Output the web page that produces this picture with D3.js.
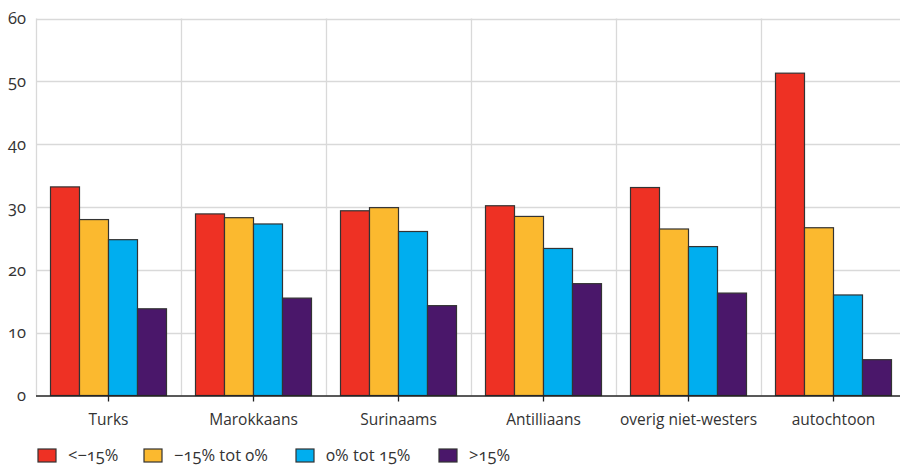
<!DOCTYPE html>
<html><head><meta charset="utf-8">
<script src="https://cdn.jsdelivr.net/npm/d3@7"></script>
<style>
html,body{margin:0;padding:0;background:#fff;}
svg{display:block;font-family:"Open Sans",sans-serif;font-feature-settings:"onum";font-variant-numeric:oldstyle-nums;}
</style></head>
<body>
<svg id="chart" width="900" height="465"></svg>
<script>
const categories = ["Turks","Marokkaans","Surinaams","Antilliaans","overig niet-westers","autochtoon"];
const seriesNames = ["<\u221215%","\u221215% tot 0%","0% tot 15%",">15%"];
const seriesColors = ["#ee3124","#fbb92f","#00aeef","#4a176a"];
const valsLow = [33.2,28.9,29.4,30.2,33.1,51.3];
const valsMidLow = [28.0,28.3,29.9,28.5,26.5,26.7];
const valsMidHigh = [24.8,27.3,26.1,23.4,23.7,16.0];
const valsHigh = [13.8,15.5,14.3,17.8,16.3,5.7];
const yTicks = [0,10,20,30,40,50,60];
const seriesValues = [valsLow,valsMidLow,valsMidHigh,valsHigh];

(function(){
const svg = d3.select("#chart");
const mL = 36, mR = 906, mT = 18.5, mB = 395.5;
const x = d3.scaleBand().domain(categories).range([mL,mR]).paddingInner(0).paddingOuter(0);
const xs = d3.scaleBand().domain(d3.range(4)).range([0,x.bandwidth()]).paddingOuter(0.5).paddingInner(0);
const y = d3.scaleLinear().domain([0,60]).range([mB,mT]);
const txt = "#333";

svg.append("g").selectAll("line").data(yTicks.filter(d=>d>0)).join("line")
  .attr("x1",mL).attr("x2",900).attr("y1",d=>Math.round(y(d))+0.5).attr("y2",d=>Math.round(y(d))+0.5)
  .attr("stroke","#d9d9d9").attr("stroke-width",1.3);
svg.append("g").selectAll("line").data(categories).join("line")
  .attr("x1",d=>Math.round(x(d))+0.5).attr("x2",d=>Math.round(x(d))+0.5).attr("y1",mT).attr("y2",mB)
  .attr("stroke","#d9d9d9").attr("stroke-width",1.3);

svg.append("g").selectAll("text").data(yTicks).join("text")
  .attr("x",26).attr("y",d=>y(d)).attr("dy","0.35em").attr("text-anchor","end")
  .attr("font-size",16.5).attr("fill",txt).text(d=>d);

const groups = svg.append("g").selectAll("g").data(categories).join("g")
  .attr("transform",d=>`translate(${x(d)},0)`);
groups.selectAll("rect").data((c,ci)=>seriesValues.map((s,si)=>({si,v:s[ci]}))).join("rect")
  .attr("x",d=>xs(d.si)).attr("width",xs.bandwidth())
  .attr("y",d=>y(d.v)).attr("height",d=>y(0)-y(d.v))
  .attr("fill",d=>seriesColors[d.si]).attr("stroke","#333").attr("stroke-width",1.2);

const xAxis = svg.append("g").attr("transform",`translate(0,${mB})`)
  .call(d3.axisBottom(x).tickSize(6).tickPadding(12).tickSizeOuter(0));
xAxis.select(".domain").attr("d",`M${mL},0.5H900`).attr("stroke","#222").attr("stroke-width",1.3);
xAxis.selectAll(".tick line").attr("stroke","#222").attr("stroke-width",1.3);
xAxis.selectAll(".tick text").attr("font-size",15.5).attr("fill",txt).attr("font-family","Open Sans, sans-serif");

const legX = [38,144,296,439];
const leg = svg.append("g").selectAll("g").data(seriesNames).join("g")
  .attr("transform",(d,i)=>`translate(${legX[i]},449)`);
leg.append("rect").attr("width",18).attr("height",13).attr("fill",(d,i)=>seriesColors[i])
  .attr("stroke","#333").attr("stroke-width",1.2);
leg.append("text").attr("x",30).attr("y",11.5).attr("font-size",16.5).attr("fill",txt).text(d=>d);
})();
</script>
</body></html>
